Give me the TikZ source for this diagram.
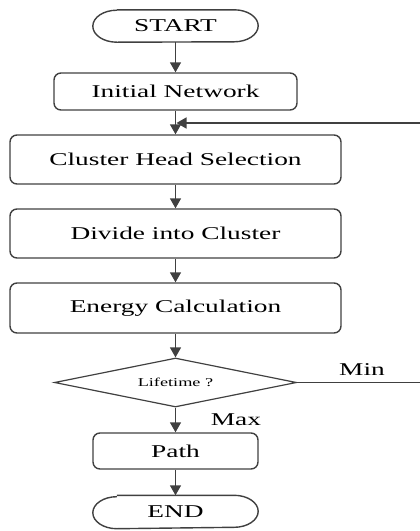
\documentclass[tikz,border=0pt]{standalone}
\usepackage{fontspec}
\setmainfont{Liberation Serif}
\usetikzlibrary{arrows.meta,shapes.geometric}
\definecolor{ink}{HTML}{404040}
% wide lettering used throughout the chart
\newcommand{\widetxt}[1]{\scalebox{1.52}[1]{#1}}
\tikzset{
  every node/.style={font=\fontsize{18}{20}\selectfont, text=black},
  flowline/.style={draw=ink, line width=1.4pt},
  flowarrow/.style={flowline, -{Triangle[width=11pt,length=10pt]}},
  procbox/.style={draw=ink, line width=1.4pt, rounded corners=7pt, inner sep=0pt},
  termbox/.style={inner sep=0pt},
  decbox/.style={draw=ink, line width=1.2pt, shape=diamond, aspect=5, inner sep=0pt,
                 minimum width=242pt, minimum height=49pt},
}
\begin{document}
\begin{tikzpicture}[x=1pt, y=-1pt]
\useasboundingbox (0,0) rectangle (420,531);

% terminals (drawn with elliptic ends below)
\node[termbox, minimum width=165pt, minimum height=32pt] (start) at (175.5,26) {\widetxt{START}};
\node[termbox, minimum width=165pt, minimum height=33pt] (end) at (175.5,512) {\widetxt{END}};
\foreach \t in {start,end}{
  \draw[flowline] ([xshift=24pt]\t.north west) -- ([xshift=-24pt]\t.north east)
    arc[start angle=90, end angle=-90, x radius=24pt, y radius=16pt]
    -- ([xshift=24pt]\t.south west)
    arc[start angle=270, end angle=90, x radius=24pt, y radius=16pt];
}

% process steps
\node[procbox, minimum width=243pt, minimum height=37pt] (init) at (175.5,91.5) {\widetxt{Initial Network}};
\node[procbox, minimum width=331pt, minimum height=49pt] (chs) at (175.5,159.5) {\widetxt{Cluster Head Selection}};
\node[procbox, minimum width=331pt, minimum height=49pt] (div) at (175.5,233.5) {\widetxt{Divide into Cluster}};
\node[procbox, minimum width=331pt, minimum height=50pt] (energy) at (175.5,308) {\widetxt{Energy Calculation}};
\node[decbox] (life) at (175.5,382.5) {\fontsize{12}{14}\selectfont\widetxt{Lifetime ?}};
\node[procbox, minimum width=165pt, minimum height=36pt] (path) at (175.5,451) {\widetxt{Path}};

% branch labels
\node (minlbl) at (362,370) {\widetxt{Min}};
\node (maxlbl) at (236,420) {\widetxt{Max}};

% main flow
\draw[flowarrow] (start) -- (init);
\draw[flowarrow] (init) -- (chs);
\draw[flowarrow] (chs) -- (div);
\draw[flowarrow] (div) -- (energy);
\draw[flowarrow] (energy) -- (life);
\draw[flowarrow] (life) -- (path);
\draw[flowarrow] (path) -- (end);

% loop back on "Min"
\coordinate (minout) at (420,382.5);
\coordinate (loopin) at (420,123);
\coordinate (join) at (176.5,123);
\draw[flowline] (life.east) -- (minout);
\draw[flowarrow] (loopin) -- (join);
\end{tikzpicture}
\end{document}
